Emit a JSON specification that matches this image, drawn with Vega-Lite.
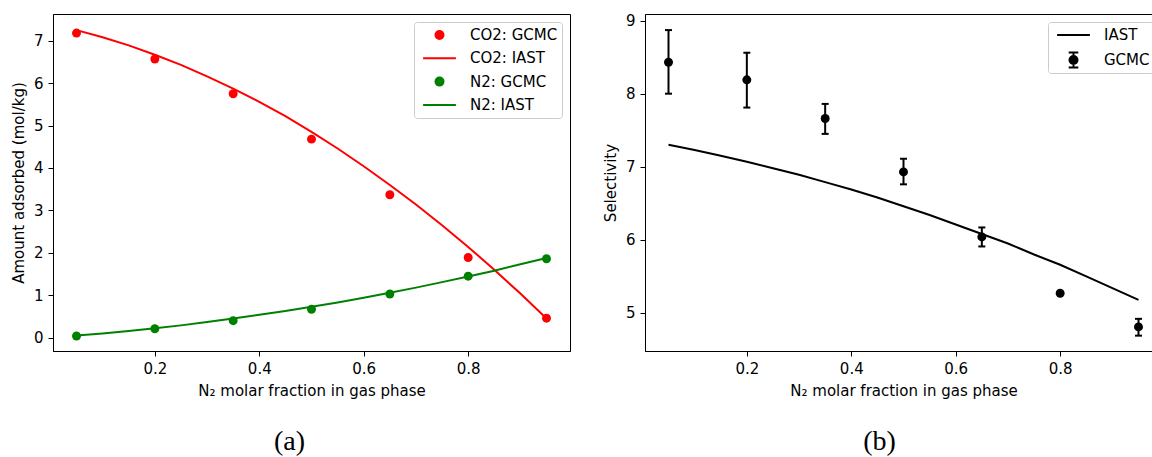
{
  "$schema": "https://vega.github.io/schema/vega-lite/v6.json",
  "background": "white",
  "padding": {"left": 10, "top": 13, "right": 0, "bottom": 0},
  "spacing": 75,
  "bounds": "flush",
  "config": {
    "view": {"stroke": "black", "strokeWidth": 1},
    "font": "DejaVu Sans",
    "axis": {"grid": false, "domainColor": "black", "tickColor": "black", "labelColor": "black", "titleColor": "black", "labelFont": "DejaVu Sans", "titleFont": "DejaVu Sans", "labelFontSize": 15, "titleFontSize": 15, "titleFontWeight": "normal", "tickSize": 5, "labelPadding": 5, "titlePadding": 7, "domainWidth": 1, "tickWidth": 1},
    "legend": {"symbolSize": 64, "symbolOffset": 14, "labelOffset": 23, "padding": 4, "clipHeight": 18, "rowPadding": 5.3, "labelFont": "DejaVu Sans", "labelFontSize": 15, "labelColor": "black", "strokeColor": "#cccccc", "fillColor": "white", "cornerRadius": 3, "symbolStrokeWidth": 2, "labelLimit": 300, "orient": "top-right", "offset": 8}
  },
  "resolve": {"scale": {"color": "independent"}},
  "hconcat": [
    {
      "width": 517,
      "height": 337,
      "title": {"text": "(a)", "orient": "bottom", "anchor": "middle", "font": "Liberation Serif", "fontSize": 28, "fontWeight": "normal", "color": "black", "offset": 30, "dx": -22},
      "data": {"values": [
        {"series": "CO2: GCMC", "kind": "GCMC", "x": 0.05, "y": 7.18},
        {"series": "CO2: GCMC", "kind": "GCMC", "x": 0.2, "y": 6.57},
        {"series": "CO2: GCMC", "kind": "GCMC", "x": 0.35, "y": 5.75},
        {"series": "CO2: GCMC", "kind": "GCMC", "x": 0.5, "y": 4.68},
        {"series": "CO2: GCMC", "kind": "GCMC", "x": 0.65, "y": 3.37},
        {"series": "CO2: GCMC", "kind": "GCMC", "x": 0.8, "y": 1.89},
        {"series": "CO2: GCMC", "kind": "GCMC", "x": 0.95, "y": 0.46},
        {"series": "N2: GCMC", "kind": "GCMC", "x": 0.05, "y": 0.04},
        {"series": "N2: GCMC", "kind": "GCMC", "x": 0.2, "y": 0.21},
        {"series": "N2: GCMC", "kind": "GCMC", "x": 0.35, "y": 0.4},
        {"series": "N2: GCMC", "kind": "GCMC", "x": 0.5, "y": 0.67},
        {"series": "N2: GCMC", "kind": "GCMC", "x": 0.65, "y": 1.03},
        {"series": "N2: GCMC", "kind": "GCMC", "x": 0.8, "y": 1.45},
        {"series": "N2: GCMC", "kind": "GCMC", "x": 0.95, "y": 1.86},
        {"series": "CO2: IAST", "kind": "IAST", "x": 0.05, "y": 7.25},
        {"series": "CO2: IAST", "kind": "IAST", "x": 0.1, "y": 7.08},
        {"series": "CO2: IAST", "kind": "IAST", "x": 0.15, "y": 6.89},
        {"series": "CO2: IAST", "kind": "IAST", "x": 0.2, "y": 6.67},
        {"series": "CO2: IAST", "kind": "IAST", "x": 0.25, "y": 6.43},
        {"series": "CO2: IAST", "kind": "IAST", "x": 0.3, "y": 6.16},
        {"series": "CO2: IAST", "kind": "IAST", "x": 0.35, "y": 5.87},
        {"series": "CO2: IAST", "kind": "IAST", "x": 0.4, "y": 5.56},
        {"series": "CO2: IAST", "kind": "IAST", "x": 0.45, "y": 5.22},
        {"series": "CO2: IAST", "kind": "IAST", "x": 0.5, "y": 4.85},
        {"series": "CO2: IAST", "kind": "IAST", "x": 0.55, "y": 4.46},
        {"series": "CO2: IAST", "kind": "IAST", "x": 0.6, "y": 4.04},
        {"series": "CO2: IAST", "kind": "IAST", "x": 0.65, "y": 3.6},
        {"series": "CO2: IAST", "kind": "IAST", "x": 0.7, "y": 3.14},
        {"series": "CO2: IAST", "kind": "IAST", "x": 0.75, "y": 2.65},
        {"series": "CO2: IAST", "kind": "IAST", "x": 0.8, "y": 2.14},
        {"series": "CO2: IAST", "kind": "IAST", "x": 0.85, "y": 1.6},
        {"series": "CO2: IAST", "kind": "IAST", "x": 0.9, "y": 1.04},
        {"series": "CO2: IAST", "kind": "IAST", "x": 0.95, "y": 0.45},
        {"series": "N2: IAST", "kind": "IAST", "x": 0.05, "y": 0.05},
        {"series": "N2: IAST", "kind": "IAST", "x": 0.1, "y": 0.1},
        {"series": "N2: IAST", "kind": "IAST", "x": 0.15, "y": 0.16},
        {"series": "N2: IAST", "kind": "IAST", "x": 0.2, "y": 0.22},
        {"series": "N2: IAST", "kind": "IAST", "x": 0.25, "y": 0.29},
        {"series": "N2: IAST", "kind": "IAST", "x": 0.3, "y": 0.37},
        {"series": "N2: IAST", "kind": "IAST", "x": 0.35, "y": 0.45},
        {"series": "N2: IAST", "kind": "IAST", "x": 0.4, "y": 0.54},
        {"series": "N2: IAST", "kind": "IAST", "x": 0.45, "y": 0.63},
        {"series": "N2: IAST", "kind": "IAST", "x": 0.5, "y": 0.73},
        {"series": "N2: IAST", "kind": "IAST", "x": 0.55, "y": 0.83},
        {"series": "N2: IAST", "kind": "IAST", "x": 0.6, "y": 0.94},
        {"series": "N2: IAST", "kind": "IAST", "x": 0.65, "y": 1.06},
        {"series": "N2: IAST", "kind": "IAST", "x": 0.7, "y": 1.18},
        {"series": "N2: IAST", "kind": "IAST", "x": 0.75, "y": 1.31},
        {"series": "N2: IAST", "kind": "IAST", "x": 0.8, "y": 1.44},
        {"series": "N2: IAST", "kind": "IAST", "x": 0.85, "y": 1.58},
        {"series": "N2: IAST", "kind": "IAST", "x": 0.9, "y": 1.73},
        {"series": "N2: IAST", "kind": "IAST", "x": 0.95, "y": 1.88}
      ]},
      "encoding": {
        "x": {"field": "x", "type": "quantitative", "scale": {"domain": [0.005, 0.995], "nice": false, "zero": false}, "axis": {"values": [0.2, 0.4, 0.6, 0.8], "format": ".1f", "title": "N₂ molar fraction in gas phase"}},
        "y": {"field": "y", "type": "quantitative", "scale": {"domain": [-0.314, 7.63], "nice": false, "zero": false}, "axis": {"values": [0, 1, 2, 3, 4, 5, 6, 7], "format": "d", "title": "Amount adsorbed (mol/kg)"}},
        "color": {"field": "series", "type": "nominal", "scale": {"domain": ["CO2: GCMC", "CO2: IAST", "N2: GCMC", "N2: IAST"], "range": ["#ff0000", "#ff0000", "#008000", "#008000"]},
          "legend": {"title": null, "orient": "top-right", "offset": 8, "symbolSize": 64, "rowPadding": 5.3,
            "encode": {"symbols": {"update": {
              "fill": {"signal": "indexof(datum.value, 'CO2') === 0 ? '#ff0000' : '#008000'"},
              "stroke": {"signal": "indexof(datum.value, 'CO2') === 0 ? '#ff0000' : '#008000'"},
              "strokeWidth": {"value": 2},
              "opacity": {"value": 1},
              "size": {"value": 64},
              "shape": {"signal": "indexof(datum.value, 'IAST') >= 0 ? 'M-4.1,0L4.1,0' : 'circle'"}
            }}}}}
      },
      "layer": [
        {"transform": [{"filter": "datum.kind === 'IAST'"}], "mark": {"type": "line", "strokeWidth": 2}},
        {"transform": [{"filter": "datum.kind === 'GCMC'"}], "mark": {"type": "point", "filled": true, "size": 80, "opacity": 1}}
      ]
    },
    {
      "width": 517,
      "height": 337,
      "title": {"text": "(b)", "orient": "bottom", "anchor": "middle", "font": "Liberation Serif", "fontSize": 28, "fontWeight": "normal", "color": "black", "offset": 30, "dx": -24},
      "data": {"values": [
        {"series": "GCMC", "x": 0.05, "s": 8.43, "lo": 8.0, "hi": 8.87},
        {"series": "GCMC", "x": 0.2, "s": 8.19, "lo": 7.81, "hi": 8.56},
        {"series": "GCMC", "x": 0.35, "s": 7.66, "lo": 7.45, "hi": 7.86},
        {"series": "GCMC", "x": 0.5, "s": 6.93, "lo": 6.76, "hi": 7.11},
        {"series": "GCMC", "x": 0.65, "s": 6.04, "lo": 5.91, "hi": 6.17},
        {"series": "GCMC", "x": 0.8, "s": 5.27, "lo": 5.26, "hi": 5.28},
        {"series": "GCMC", "x": 0.95, "s": 4.81, "lo": 4.69, "hi": 4.92},
        {"series": "IAST", "x": 0.05, "s": 7.3},
        {"series": "IAST", "x": 0.1, "s": 7.23},
        {"series": "IAST", "x": 0.15, "s": 7.15},
        {"series": "IAST", "x": 0.2, "s": 7.07},
        {"series": "IAST", "x": 0.25, "s": 6.98},
        {"series": "IAST", "x": 0.3, "s": 6.89},
        {"series": "IAST", "x": 0.35, "s": 6.79},
        {"series": "IAST", "x": 0.4, "s": 6.69},
        {"series": "IAST", "x": 0.45, "s": 6.58},
        {"series": "IAST", "x": 0.5, "s": 6.46},
        {"series": "IAST", "x": 0.55, "s": 6.34},
        {"series": "IAST", "x": 0.6, "s": 6.21},
        {"series": "IAST", "x": 0.65, "s": 6.08},
        {"series": "IAST", "x": 0.7, "s": 5.95},
        {"series": "IAST", "x": 0.75, "s": 5.8},
        {"series": "IAST", "x": 0.8, "s": 5.66},
        {"series": "IAST", "x": 0.85, "s": 5.5},
        {"series": "IAST", "x": 0.9, "s": 5.34},
        {"series": "IAST", "x": 0.95, "s": 5.18}
      ]},
      "encoding": {
        "x": {"field": "x", "type": "quantitative", "scale": {"domain": [0.005, 0.995], "nice": false, "zero": false}, "axis": {"values": [0.2, 0.4, 0.6, 0.8], "format": ".1f", "title": "N₂ molar fraction in gas phase"}},
        "y": {"field": "s", "type": "quantitative", "scale": {"domain": [4.48, 9.09], "nice": false, "zero": false}, "axis": {"values": [5, 6, 7, 8, 9], "format": "d", "title": "Selectivity"}}
      },
      "layer": [
        {"transform": [{"filter": "datum.series === 'IAST'"}], "mark": {"type": "line", "strokeWidth": 2},
          "encoding": {"color": {"field": "series", "type": "nominal", "scale": {"domain": ["IAST", "GCMC"], "range": ["black", "black"]},
            "legend": {"title": null, "orient": "top-right", "offset": 8, "symbolSize": 64, "rowPadding": 7,
              "encode": {"symbols": {"update": {
                "fill": {"value": "black"},
                "stroke": {"value": "black"},
                "strokeWidth": {"value": 2},
                "opacity": {"value": 1},
                "size": {"value": 64},
                "shape": {"signal": "datum.value === 'IAST' ? 'M-4.1,0L4.1,0' : 'M-1,0A1,1,0,1,0,1,0A1,1,0,1,0,-1,0ZM0,-1.9L0,1.9M-1.2,-1.9L1.2,-1.9M-1.2,1.9L1.2,1.9'"}
              }}}}}}},
        {"transform": [{"filter": "datum.series === 'GCMC'"}], "mark": {"type": "rule", "color": "black", "strokeWidth": 2},
          "encoding": {"y": {"field": "lo", "type": "quantitative"}, "y2": {"field": "hi"}}},
        {"transform": [{"filter": "datum.series === 'GCMC'"}], "mark": {"type": "point", "shape": "stroke", "filled": false, "color": "black", "strokeWidth": 2, "size": 49, "opacity": 1},
          "encoding": {"y": {"field": "lo", "type": "quantitative"}}},
        {"transform": [{"filter": "datum.series === 'GCMC'"}], "mark": {"type": "point", "shape": "stroke", "filled": false, "color": "black", "strokeWidth": 2, "size": 49, "opacity": 1},
          "encoding": {"y": {"field": "hi", "type": "quantitative"}}},
        {"transform": [{"filter": "datum.series === 'GCMC'"}], "mark": {"type": "point", "filled": true, "size": 80, "opacity": 1},
          "encoding": {"color": {"field": "series", "type": "nominal", "scale": {"domain": ["IAST", "GCMC"], "range": ["black", "black"]}}}}
      ]
    }
  ]
}
